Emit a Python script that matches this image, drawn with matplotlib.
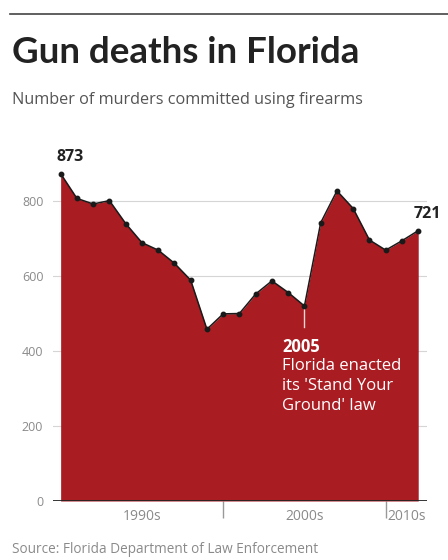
import matplotlib
matplotlib.use("Agg")
import matplotlib.pyplot as plt
from matplotlib.lines import Line2D

plt.rcParams["font.family"] = ["Open Sans", "DejaVu Sans"]

years = list(range(1990, 2013))
murders = [873, 807, 792, 801, 740, 689, 669, 634, 589, 458, 499, 500,
           552, 587, 556, 520, 742, 827, 780, 696, 669, 694, 721]
y_ticks = [0, 200, 400, 600, 800]
decade_labels = ["1990s", "2000s", "2010s"]
decade_label_pos = [1995, 2005, 2011.3]
decade_breaks = [2000, 2010]

fill_color = "#a91c22"
grey_text = "#8a8a8a"

fig = plt.figure(figsize=(4.48, 5.6), dpi=100)
fig.patch.set_facecolor("white")

# header rule and titles
fig.add_artist(Line2D([10 / 448, 1.0], [1 - 14 / 560] * 2, color="#444444", lw=1.2))
fig.text(12 / 448, 1 - 63 / 560, "Gun deaths in Florida", fontsize=26.5, fontweight="bold",
         family=["Lato", "DejaVu Sans"], color="#222222", ha="left", va="baseline")
fig.text(12 / 448, 1 - 104 / 560, "Number of murders committed using firearms",
         fontsize=11.7, color="#555555", ha="left", va="baseline")
fig.text(12 / 448, 1 - 553 / 560, "Source: Florida Department of Law Enforcement",
         fontsize=9.8, color=grey_text, ha="left", va="baseline")

ax = fig.add_axes([53 / 448, 59 / 560, 374 / 448, 337.5 / 560])
ax.set_xlim(1989.53, 2012.54)
ax.set_ylim(0, 900)

ax.fill_between(years, murders, 0, color=fill_color, lw=0, zorder=2)
ax.plot(years, murders, color="#1a1a1a", lw=1.1, marker="o", markersize=3.2, zorder=4)

for v in y_ticks[1:]:
    ax.axhline(v, color="#d5d5d5", lw=0.8, zorder=1)
ax.axhline(0, color="#222222", lw=2, zorder=5)

ax.set_yticks(y_ticks)
ax.set_yticklabels([str(v) for v in y_ticks])
ax.tick_params(axis="y", length=0, pad=7, labelsize=9, labelcolor=grey_text)

ax.set_xticks(decade_label_pos)
ax.set_xticklabels(decade_labels)
ax.set_xticks(decade_breaks, minor=True)
ax.tick_params(axis="x", which="major", length=0, pad=6, labelsize=10, labelcolor=grey_text)
ax.tick_params(axis="x", which="minor", length=12, width=1, color="#999999")

for s in ax.spines.values():
    s.set_visible(False)

# end-point value labels
for i in (0, -1):
    ax.annotate(str(murders[i]), (years[i], murders[i]), xytext=(-3, 6), textcoords="offset points",
                ha="left", va="bottom", fontsize=11.5, fontweight="bold", color="#222222")

# 2005 Stand Your Ground callout
i05 = years.index(2005)
ax.plot([2005, 2005], [murders[i05], 464], color="#f2d6d6", lw=1, zorder=3)
ax.text(2003.62, 436, "2005", fontsize=12, fontweight="bold", color="white",
        ha="left", va="top", zorder=6)
ax.text(2003.62, 381, "Florida enacted\nits 'Stand Your\nGround' law", fontsize=12,
        color="white", ha="left", va="top", linespacing=1.33, zorder=6)

fig.savefig("out.png", dpi=100)
